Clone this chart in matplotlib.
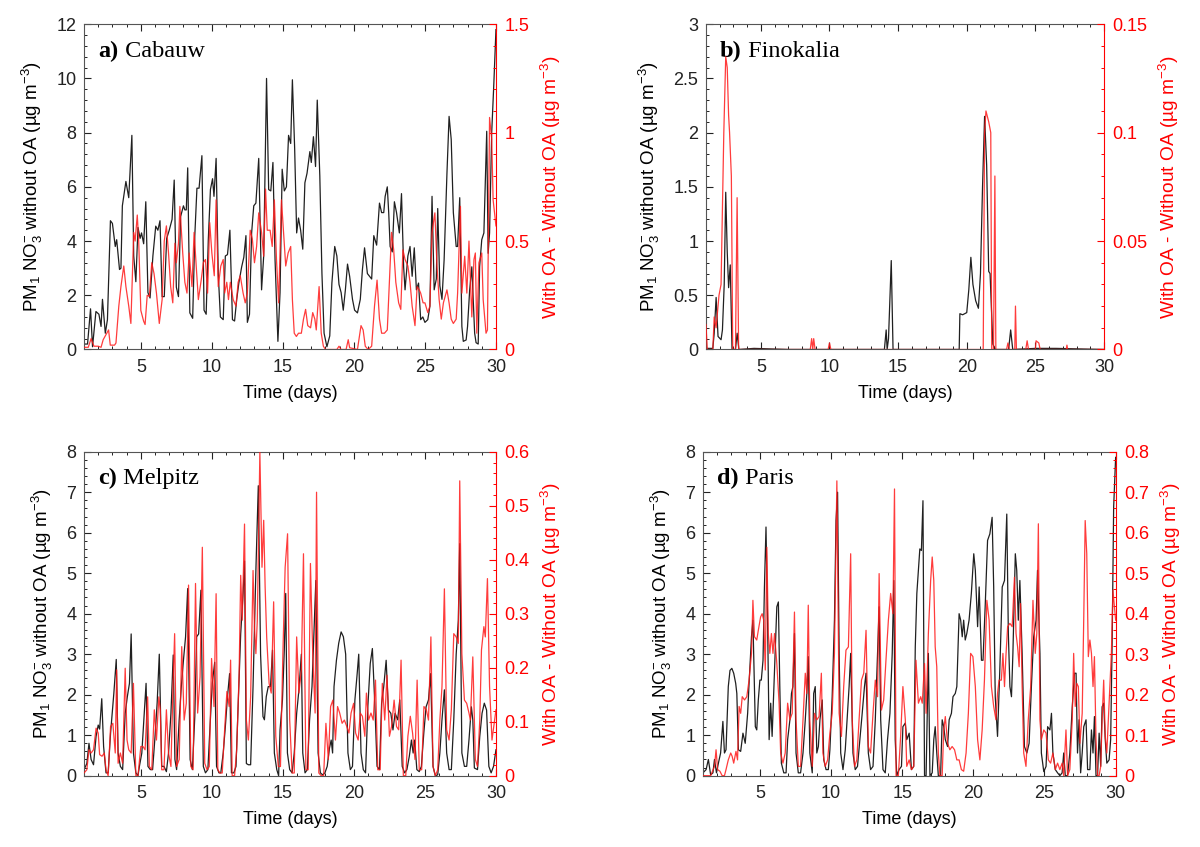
import matplotlib
matplotlib.use('Agg')
import matplotlib.pyplot as plt
import numpy as np
from matplotlib.ticker import MultipleLocator, AutoMinorLocator, FormatStrFormatter

plt.rcParams['font.family'] = ['Liberation Sans', 'DejaVu Sans']
plt.rcParams['mathtext.fontset'] = 'custom'
plt.rcParams['mathtext.rm'] = 'Liberation Sans'
plt.rcParams['mathtext.it'] = 'Liberation Sans:italic'

# (day, value) pairs
# black = PM1 nitrate without OA (left axis), red = difference with OA - without OA (right axis)
cabauw_black = [
    (1.0, 0.2), (1.25, 0.2), (1.46, 1.5), (1.6, 0.1), (1.84, 1.4), (2.05, 1.3), (2.2, 0.85), (2.3, 1.85),
    (2.5, 0.6), (2.65, 1.1), (2.86, 4.75), (3.0, 4.65), (3.2, 3.8), (3.3, 4.05), (3.5, 2.95), (3.6, 3.0),
    (3.7, 5.3), (3.95, 6.2), (4.15, 5.6), (4.37, 7.9), (4.5, 3.45), (4.65, 2.5), (4.8, 4.5), (4.95, 4.1),
    (5.05, 4.3), (5.2, 3.9), (5.35, 5.45), (5.5, 2.1), (5.65, 1.9), (5.85, 3.45), (6.05, 4.55), (6.2, 4.4),
    (6.35, 4.75), (6.5, 1.95), (6.65, 1.95), (6.82, 4.1), (7.0, 4.4), (7.2, 4.8), (7.35, 6.25), (7.5, 2.3),
    (7.65, 1.95), (7.8, 4.9), (8.0, 5.3), (8.1, 5.15), (8.2, 5.15), (8.3, 6.7), (8.45, 1.35), (8.65, 1.15),
    (8.8, 4.2), (8.95, 5.95), (9.1, 5.95), (9.3, 7.15), (9.45, 1.45), (9.6, 1.3), (9.75, 4.05), (9.9, 5.9),
    (10.05, 6.3), (10.15, 5.65), (10.3, 7.05), (10.45, 2.8), (10.6, 1.2), (10.8, 1.1), (10.95, 3.45),
    (11.1, 3.5), (11.27, 4.4), (11.45, 1.1), (11.6, 1.05), (11.75, 1.85), (11.9, 2.45), (12.1, 3.05),
    (12.25, 3.4), (12.4, 4.2), (12.5, 1.0), (12.65, 1.3), (12.8, 4.3), (12.95, 5.3), (13.1, 5.4),
    (13.3, 7.05), (13.5, 2.2), (13.65, 3.45), (13.85, 10.0), (14.0, 5.9), (14.15, 5.85), (14.3, 6.9),
    (14.45, 3.3), (14.65, 0.3), (14.8, 2.1), (14.95, 6.65), (15.1, 5.85), (15.25, 6.0), (15.4, 7.9),
    (15.55, 7.6), (15.67, 9.95), (15.83, 7.4), (15.97, 4.3), (16.1, 4.85), (16.25, 4.4), (16.4, 3.7),
    (16.55, 6.15), (16.7, 6.5), (16.9, 7.3), (17.0, 6.9), (17.15, 7.85), (17.3, 6.75), (17.42, 9.2),
    (17.6, 6.4), (17.75, 2.8), (17.9, 0.6), (18.1, 0.1), (18.3, 0.5), (18.45, 2.45), (18.65, 3.8),
    (18.8, 3.45), (18.95, 2.4), (19.1, 2.1), (19.25, 1.45), (19.4, 2.2), (19.55, 3.15), (19.7, 2.7),
    (19.9, 1.85), (20.05, 1.45), (20.25, 1.35), (20.45, 1.85), (20.6, 2.95), (20.75, 3.75), (20.95, 2.8),
    (21.1, 2.7), (21.25, 2.6), (21.4, 4.2), (21.6, 3.85), (21.7, 4.65), (21.8, 5.4), (21.95, 5.05),
    (22.1, 5.05), (22.2, 5.65), (22.35, 6.0), (22.45, 5.05), (22.55, 3.8), (22.7, 3.6), (22.85, 5.45),
    (23.0, 5.05), (23.2, 4.3), (23.35, 5.75), (23.5, 3.05), (23.6, 2.2), (23.8, 3.45), (23.95, 3.8),
    (24.1, 2.7), (24.25, 3.75), (24.4, 2.2), (24.55, 2.45), (24.7, 1.1), (24.85, 1.2), (25.0, 1.0),
    (25.2, 1.1), (25.35, 1.6), (25.5, 5.65), (25.65, 2.2), (25.8, 2.6), (25.9, 5.2), (26.05, 2.35),
    (26.2, 1.85), (26.35, 3.3), (26.55, 6.5), (26.7, 8.6), (26.85, 7.75), (27.0, 5.05), (27.2, 3.8),
    (27.3, 3.8), (27.45, 5.6), (27.6, 0.85), (27.7, 0.3), (27.9, 0.35), (28.0, 0.85), (28.15, 2.2),
    (28.3, 3.05), (28.5, 0.6), (28.6, 0.25), (28.75, 0.2), (28.85, 3.05), (29.0, 4.05), (29.15, 4.3),
    (29.35, 8.05), (29.45, 3.55), (29.55, 4.3), (29.7, 8.0), (29.85, 9.8), (30.0, 11.8),
]
cabauw_red = [
    (1.0, 0.01), (1.3, 0.01), (1.5, 0.05), (1.7, 0.015), (2.0, 0.015), (2.2, 0.01), (2.35, 0.045),
    (2.6, 0.075), (2.73, 0.09), (2.85, 0.02), (3.15, 0.02), (3.25, 0.03), (3.45, 0.2), (3.6, 0.29),
    (3.8, 0.385), (3.95, 0.29), (4.15, 0.2), (4.3, 0.12), (4.5, 0.54), (4.6, 0.5), (4.75, 0.62),
    (4.85, 0.5), (5.0, 0.18), (5.2, 0.13), (5.3, 0.115), (5.45, 0.25), (5.6, 0.245), (5.77, 0.4),
    (5.93, 0.35), (6.1, 0.26), (6.3, 0.12), (6.5, 0.23), (6.65, 0.5), (6.8, 0.57), (6.95, 0.445),
    (7.1, 0.29), (7.25, 0.215), (7.4, 0.49), (7.5, 0.4), (7.65, 0.49), (7.75, 0.66), (7.95, 0.445),
    (8.1, 0.31), (8.25, 0.26), (8.4, 0.445), (8.6, 0.29), (8.75, 0.54), (8.9, 0.385), (9.05, 0.23),
    (9.25, 0.32), (9.4, 0.4), (9.55, 0.415), (9.7, 0.26), (9.85, 0.585), (10.0, 0.445), (10.17, 0.34),
    (10.3, 0.69), (10.45, 0.29), (10.63, 0.385), (10.8, 0.415), (10.9, 0.26), (11.05, 0.31),
    (11.17, 0.23), (11.3, 0.31), (11.5, 0.23), (11.7, 0.2), (11.85, 0.31), (12.0, 0.34), (12.2, 0.26),
    (12.35, 0.215), (12.5, 0.26), (12.7, 0.55), (12.85, 0.51), (13.0, 0.4), (13.15, 0.475),
    (13.3, 0.63), (13.5, 0.54), (13.65, 0.43), (13.78, 0.74), (13.9, 0.55), (14.1, 0.55), (14.25, 0.475),
    (14.4, 0.69), (14.55, 0.415), (14.7, 0.215), (14.9, 0.69), (15.05, 0.54), (15.2, 0.385),
    (15.37, 0.445), (15.55, 0.475), (15.67, 0.23), (15.8, 0.075), (15.95, 0.06), (16.1, 0.075),
    (16.3, 0.075), (16.45, 0.14), (16.6, 0.185), (16.75, 0.11), (16.95, 0.1), (17.1, 0.17),
    (17.25, 0.14), (17.35, 0.09), (17.55, 0.29), (17.7, 0.075), (17.85, 0.015), (18.0, 0.0),
    (18.8, 0.0), (18.95, 0.015), (19.1, 0.0), (19.45, 0.0), (19.6, 0.045), (19.7, 0.008), (20.25, 0.0),
    (20.5, 0.11), (20.65, 0.09), (20.8, 0.015), (21.0, 0.0), (21.25, 0.015), (21.45, 0.2), (21.63, 0.32),
    (21.8, 0.14), (21.95, 0.075), (22.15, 0.075), (22.35, 0.09), (22.5, 0.31), (22.65, 0.54),
    (22.8, 0.46), (22.95, 0.31), (23.15, 0.215), (23.3, 0.185), (23.45, 0.46), (23.6, 0.415),
    (23.8, 0.385), (23.95, 0.31), (24.1, 0.2), (24.3, 0.11), (24.45, 0.29), (24.6, 0.275), (24.7, 0.26),
    (24.87, 0.215), (25.0, 0.215), (25.2, 0.17), (25.35, 0.2), (25.5, 0.54), (25.7, 0.63),
    (25.85, 0.385), (26.0, 0.23), (26.15, 0.14), (26.3, 0.215), (26.55, 0.275), (26.7, 0.215),
    (26.85, 0.14), (27.0, 0.12), (27.2, 0.14), (27.3, 0.26), (27.5, 0.66), (27.6, 0.26), (27.8, 0.43),
    (27.95, 0.26), (28.1, 0.5), (28.3, 0.15), (28.45, 0.415), (28.55, 0.445), (28.65, 0.075),
    (28.8, 0.4), (29.0, 0.445), (29.1, 0.23), (29.3, 0.075), (29.4, 0.09), (29.55, 1.07), (29.7, 0.97),
    (29.8, 0.69), (30.0, 0.57),
]

finokalia_black = [
    (1.0, 0.01), (1.5, 0.01), (1.6, 0.15), (1.74, 0.48), (1.88, 0.12), (2.1, 0.09), (2.2, 0.18),
    (2.33, 0.6), (2.44, 1.45), (2.55, 0.9), (2.65, 0.57), (2.77, 0.78), (2.9, 0.0), (3.15, 0.0),
    (3.27, 0.15), (3.4, 0.0), (4.5, 0.01), (7.0, 0.0), (10.0, 0.0), (14.0, 0.0), (14.13, 0.18),
    (14.2, 0.0), (14.3, 0.1), (14.5, 0.82), (14.63, 0.0), (19.45, 0.0), (19.5, 0.33), (19.7, 0.32),
    (20.0, 0.34), (20.15, 0.55), (20.3, 0.85), (20.45, 0.6), (20.65, 0.45), (20.85, 0.38), (21.0, 0.7),
    (21.15, 1.5), (21.3, 2.15), (21.45, 1.7), (21.6, 0.72), (21.7, 0.7), (21.9, 0.05), (22.08, 0.0),
    (23.05, 0.0), (23.2, 0.18), (23.35, 0.0), (25.0, 0.01), (26.5, 0.01), (30.0, 0.0),
]
finokalia_red = [
    (1.0, 0.0115), (1.1, 0.0), (1.5, 0.0), (1.6, 0.015), (1.74, 0.01), (1.95, 0.025), (2.1, 0.03),
    (2.3, 0.1), (2.44, 0.135), (2.55, 0.13), (2.65, 0.108), (2.72, 0.1), (2.85, 0.08), (2.95, 0.0),
    (3.15, 0.0), (3.27, 0.07), (3.38, 0.0), (8.6, 0.0), (8.7, 0.005), (8.78, 0.0), (8.85, 0.005),
    (8.95, 0.0), (9.9, 0.0), (10.0, 0.003), (10.1, 0.0), (21.2, 0.0), (21.3, 0.1), (21.4, 0.11),
    (21.6, 0.105), (21.75, 0.1), (21.82, 0.0), (21.95, 0.0), (22.05, 0.08), (22.12, 0.0), (22.9, 0.0),
    (23.0, 0.003), (23.1, 0.0), (23.5, 0.0), (23.55, 0.02), (23.62, 0.0), (24.3, 0.0), (24.4, 0.004),
    (24.5, 0.0), (25.0, 0.0), (25.05, 0.004), (25.25, 0.003), (25.35, 0.0), (27.25, 0.0), (27.3, 0.002),
    (27.35, 0.0), (30.0, 0.0),
]

melpitz_black = [
    (1.0, 0.15), (1.2, 0.3), (1.35, 0.8), (1.5, 0.4), (1.67, 0.27), (1.85, 0.97), (2.0, 1.25),
    (2.1, 1.15), (2.25, 1.9), (2.38, 0.72), (2.55, 0.07), (2.7, 0.07), (2.87, 1.05), (3.1, 2.03),
    (3.27, 2.87), (3.4, 0.56), (3.56, 0.23), (3.72, 0.15), (3.9, 1.54), (4.05, 1.95), (4.2, 2.28),
    (4.32, 3.5), (4.48, 0.56), (4.65, 0.07), (4.8, 0.0), (4.9, 0.23), (5.07, 0.56), (5.23, 1.46),
    (5.37, 2.28), (5.5, 0.23), (5.67, 0.15), (5.83, 0.15), (6.0, 0.97), (6.15, 1.8), (6.3, 3.0),
    (6.47, 0.23), (6.63, 0.23), (6.8, 0.1), (6.95, 0.56), (7.12, 1.54), (7.28, 2.98), (7.4, 0.4),
    (7.52, 0.15), (7.7, 1.38), (7.85, 2.2), (8.0, 2.85), (8.15, 3.43), (8.3, 4.62), (8.47, 0.4),
    (8.63, 0.15), (8.8, 1.46), (8.93, 3.43), (9.07, 3.5), (9.23, 4.58), (9.4, 0.23), (9.55, 0.07),
    (9.72, 0.15), (9.87, 1.21), (10.03, 2.28), (10.2, 2.8), (10.33, 0.23), (10.5, 0.07), (10.63, 0.07),
    (10.8, 0.56), (10.95, 1.21), (11.1, 1.95), (11.25, 2.52), (11.38, 0.07), (11.55, 0.07),
    (11.7, 0.23), (11.87, 1.95), (12.03, 3.5), (12.2, 4.5), (12.3, 5.3), (12.43, 0.3), (12.57, 0.27),
    (12.73, 0.27), (12.9, 2.2), (13.1, 5.07), (13.27, 7.16), (13.43, 3.0), (13.6, 1.46), (13.7, 1.38),
    (13.83, 1.95), (13.97, 2.2), (14.13, 2.2), (14.27, 3.1), (14.4, 0.56), (14.57, 0.15), (14.7, 0.0),
    (14.8, 1.13), (14.97, 1.87), (15.1, 3.1), (15.2, 4.5), (15.32, 0.56), (15.48, 0.15), (15.65, 0.07),
    (15.8, 0.56), (15.97, 1.54), (16.13, 2.12), (16.3, 3.0), (16.4, 0.56), (16.56, 0.07), (16.72, 0.15),
    (16.88, 1.38), (17.05, 2.2), (17.15, 3.18), (17.32, 4.82), (17.48, 0.56), (17.64, 0.07),
    (17.8, 0.02), (17.96, 0.07), (18.12, 0.23), (18.28, 0.68), (18.4, 0.88), (18.5, 0.56), (18.6, 2.2),
    (18.77, 2.85), (18.93, 3.27), (19.1, 3.55), (19.26, 3.43), (19.42, 3.0), (19.58, 0.56),
    (19.75, 0.15), (19.9, 0.23), (20.07, 1.87), (20.23, 2.52), (20.34, 3.0), (20.5, 0.56), (20.66, 0.15),
    (20.82, 0.07), (20.98, 1.7), (21.15, 2.77), (21.3, 3.14), (21.47, 1.79), (21.63, 0.23), (21.8, 0.15),
    (21.95, 1.79), (22.1, 2.2), (22.27, 2.85), (22.43, 1.62), (22.6, 1.54), (22.75, 1.13), (22.9, 1.54),
    (23.08, 1.38), (23.23, 1.87), (23.4, 0.23), (23.57, 0.07), (23.73, 0.15), (23.9, 0.48),
    (24.05, 0.88), (24.17, 0.56), (24.28, 0.88), (24.43, 0.15), (24.6, 0.1), (24.75, 0.23),
    (24.92, 1.05), (25.08, 1.7), (25.25, 1.87), (25.4, 2.52), (25.57, 0.23), (25.73, 0.0), (25.9, 0.02),
    (26.05, 0.56), (26.2, 1.38), (26.37, 2.12), (26.53, 0.56), (26.7, 0.15), (26.86, 0.15),
    (27.03, 1.38), (27.2, 3.0), (27.35, 3.84), (27.45, 5.73), (27.6, 0.56), (27.78, 0.23), (27.94, 0.23),
    (28.1, 0.88), (28.27, 1.7), (28.37, 1.38), (28.48, 0.19), (28.7, 0.15), (28.86, 0.97), (29.02, 1.54),
    (29.18, 1.79), (29.34, 1.62), (29.5, 0.23), (29.66, 0.07), (29.83, 0.23), (30.0, 0.64),
]
melpitz_red = [
    (1.0, 0.005), (1.2, 0.011), (1.35, 0.048), (1.5, 0.042), (1.67, 0.048), (1.85, 0.088), (2.0, 0.079),
    (2.1, 0.039), (2.27, 0.036), (2.43, 0.042), (2.55, 0.011), (2.7, 0.0), (2.87, 0.091), (3.03, 0.097),
    (3.2, 0.042), (3.3, 0.196), (3.4, 0.023), (3.56, 0.042), (3.72, 0.023), (3.9, 0.199), (4.03, 0.066),
    (4.15, 0.048), (4.32, 0.042), (4.48, 0.171), (4.65, 0.0), (4.8, 0.0), (5.0, 0.054), (5.15, 0.054),
    (5.3, 0.048), (5.48, 0.146), (5.6, 0.017), (5.77, 0.011), (5.95, 0.122), (6.1, 0.066), (6.27, 0.146),
    (6.37, 0.122), (6.47, 0.011), (6.63, 0.011), (6.8, 0.122), (6.95, 0.042), (7.12, 0.017),
    (7.28, 0.177), (7.38, 0.263), (7.52, 0.017), (7.7, 0.03), (7.88, 0.239), (8.05, 0.103), (8.2, 0.134),
    (8.36, 0.353), (8.52, 0.017), (8.68, 0.011), (8.85, 0.356), (9.0, 0.116), (9.17, 0.183),
    (9.33, 0.423), (9.5, 0.023), (9.66, 0.011), (9.82, 0.017), (9.98, 0.217), (10.15, 0.128),
    (10.3, 0.337), (10.42, 0.011), (10.57, 0.005), (10.73, 0.005), (10.9, 0.085), (11.06, 0.156),
    (11.22, 0.128), (11.32, 0.214), (11.43, 0.0), (11.6, 0.0), (11.75, 0.048), (11.92, 0.19),
    (12.03, 0.371), (12.14, 0.288), (12.3, 0.466), (12.43, 0.103), (12.57, 0.066), (12.73, 0.146),
    (12.9, 0.38), (13.0, 0.276), (13.1, 0.226), (13.2, 0.288), (13.38, 0.599), (13.53, 0.386),
    (13.65, 0.473), (13.75, 0.35), (13.86, 0.257), (14.03, 0.171), (14.18, 0.153), (14.35, 0.322),
    (14.5, 0.073), (14.68, 0.017), (14.83, 0.017), (15.0, 0.226), (15.16, 0.386), (15.33, 0.448),
    (15.48, 0.103), (15.65, 0.005), (15.8, 0.005), (15.97, 0.257), (16.13, 0.153), (16.3, 0.196),
    (16.45, 0.411), (16.62, 0.011), (16.78, 0.011), (16.94, 0.393), (17.1, 0.226), (17.27, 0.116),
    (17.37, 0.525), (17.53, 0.005), (17.7, 0.0), (17.87, 0.0), (18.03, 0.097), (18.2, 0.03),
    (18.36, 0.128), (18.52, 0.14), (18.7, 0.066), (18.85, 0.128), (19.0, 0.116), (19.17, 0.097),
    (19.33, 0.103), (19.5, 0.091), (19.65, 0.079), (19.8, 0.116), (19.98, 0.134), (20.12, 0.079),
    (20.3, 0.066), (20.45, 0.116), (20.6, 0.11), (20.77, 0.073), (20.88, 0.153), (21.03, 0.103),
    (21.2, 0.116), (21.36, 0.103), (21.52, 0.177), (21.68, 0.011), (21.85, 0.011), (22.0, 0.171),
    (22.17, 0.103), (22.33, 0.186), (22.5, 0.073), (22.65, 0.091), (22.83, 0.14), (23.0, 0.091),
    (23.15, 0.085), (23.32, 0.214), (23.48, 0.0), (23.65, 0.0), (23.8, 0.073), (23.97, 0.11),
    (24.13, 0.079), (24.3, 0.03), (24.45, 0.177), (24.6, 0.011), (24.77, 0.011), (24.93, 0.128),
    (25.1, 0.122), (25.25, 0.103), (25.42, 0.257), (25.57, 0.017), (25.73, 0.0), (25.9, 0.011),
    (26.05, 0.103), (26.2, 0.165), (26.37, 0.346), (26.53, 0.085), (26.7, 0.066), (26.86, 0.122),
    (27.03, 0.263), (27.2, 0.257), (27.35, 0.245), (27.45, 0.546), (27.6, 0.226), (27.78, 0.14),
    (27.94, 0.134), (28.1, 0.116), (28.2, 0.103), (28.37, 0.22), (28.55, 0.03), (28.7, 0.017),
    (28.86, 0.103), (28.98, 0.233), (29.15, 0.276), (29.25, 0.257), (29.4, 0.365), (29.55, 0.165),
    (29.72, 0.066), (30.0, 0.122),
]

paris_black = [
    (1.0, 0.07), (1.22, 0.15), (1.38, 0.4), (1.54, 0.02), (1.7, 0.07), (1.81, 0.4), (1.95, 0.07),
    (2.08, 0.3), (2.24, 0.56), (2.4, 1.34), (2.51, 0.56), (2.62, 0.64), (2.78, 2.2), (2.9, 2.6),
    (3.03, 2.65), (3.16, 2.53), (3.3, 2.28), (3.38, 2.03), (3.49, 0.64), (3.65, 0.6), (3.81, 1.05),
    (3.97, 0.8), (4.14, 1.54), (4.24, 2.28), (4.41, 3.43), (4.51, 3.84), (4.68, 1.21), (4.78, 1.13),
    (4.89, 1.87), (5.0, 2.36), (5.1, 2.36), (5.22, 2.85), (5.32, 4.66), (5.43, 6.14), (5.54, 3.84),
    (5.65, 0.89), (5.76, 1.79), (5.86, 0.97), (6.03, 2.61), (6.19, 4.17), (6.3, 4.29), (6.4, 2.2),
    (6.51, 0.31), (6.68, 0.07), (6.84, 0.07), (6.95, 0.89), (7.11, 1.38), (7.22, 2.03), (7.32, 2.2),
    (7.43, 3.51), (7.54, 0.56), (7.7, 0.07), (7.86, 0.07), (8.03, 0.56), (8.19, 1.38), (8.3, 2.03),
    (8.4, 2.94), (8.51, 0.56), (8.68, 0.07), (8.78, 2.03), (8.89, 2.2), (9.0, 0.56), (9.11, 0.72),
    (9.22, 1.38), (9.38, 1.87), (9.49, 0.39), (9.65, 0.15), (9.81, 0.15), (9.92, 0.64), (10.08, 1.95),
    (10.24, 3.84), (10.35, 6.3), (10.46, 7.0), (10.57, 3.02), (10.68, 0.56), (10.84, 0.15), (11.0, 0.64),
    (11.16, 1.54), (11.27, 2.2), (11.38, 3.02), (11.54, 0.56), (11.7, 0.15), (11.86, 0.23), (12.03, 0.89),
    (12.19, 1.54), (12.35, 2.2), (12.46, 2.53), (12.62, 0.56), (12.78, 0.15), (12.95, 0.23),
    (13.11, 1.38), (13.27, 3.02), (13.38, 4.17), (13.49, 1.38), (13.65, 0.15), (13.81, 0.07),
    (13.97, 0.89), (14.14, 1.54), (14.3, 3.02), (14.41, 4.82), (14.51, 0.89), (14.62, 0.0),
    (14.78, 0.15), (14.95, 0.23), (15.05, 1.21), (15.22, 1.3), (15.32, 0.89), (15.49, 1.05),
    (15.65, 0.15), (15.81, 0.23), (15.92, 3.18), (16.03, 4.5), (16.14, 5.07), (16.24, 5.6),
    (16.35, 5.56), (16.46, 6.79), (16.57, 0.0), (16.68, 0.0), (16.84, 3.02), (16.95, 0.0), (17.11, 0.07),
    (17.22, 0.89), (17.32, 1.21), (17.43, 0.56), (17.54, 0.0), (17.7, 0.0), (17.81, 1.38), (17.92, 1.21),
    (18.03, 0.89), (18.19, 0.72), (18.3, 1.38), (18.46, 1.54), (18.57, 1.95), (18.73, 2.03), (18.84, 2.2),
    (19.0, 4.0), (19.11, 3.84), (19.22, 3.43), (19.32, 3.84), (19.43, 3.35), (19.54, 3.51),
    (19.7, 3.84), (19.86, 4.5), (20.03, 5.48), (20.14, 5.07), (20.3, 3.68), (20.41, 4.66), (20.57, 2.85),
    (20.68, 2.85), (20.84, 4.25), (21.0, 5.81), (21.16, 5.97), (21.32, 6.38), (21.43, 4.66),
    (21.54, 1.95), (21.7, 0.97), (21.86, 2.61), (22.03, 4.66), (22.19, 4.82), (22.35, 6.46),
    (22.46, 3.51), (22.57, 2.2), (22.68, 1.95), (22.78, 3.02), (22.95, 5.48), (23.05, 5.07),
    (23.16, 3.84), (23.27, 4.82), (23.43, 3.02), (23.59, 0.72), (23.76, 0.56), (23.92, 0.8), (24.08, 2.2),
    (24.24, 3.43), (24.41, 3.84), (24.51, 5.07), (24.68, 3.02), (24.78, 0.56), (24.95, 0.1),
    (25.11, 0.23), (25.22, 1.21), (25.38, 1.13), (25.49, 1.54), (25.59, 0.56), (25.76, 0.15),
    (25.92, 0.07), (26.08, 0.0), (26.24, 0.07), (26.35, 0.56), (26.46, 0.0), (26.62, 0.0), (26.78, 0.56),
    (26.95, 1.7), (27.11, 2.53), (27.22, 2.53), (27.32, 0.56), (27.43, 1.38), (27.54, 0.07),
    (27.65, 0.56), (27.76, 1.21), (27.92, 1.38), (28.03, 0.15), (28.19, 0.15), (28.3, 1.13),
    (28.41, 0.56), (28.51, 1.46), (28.62, 0.0), (28.73, 0.0), (28.84, 1.05), (28.95, 0.23), (29.05, 1.7),
    (29.16, 1.79), (29.27, 0.89), (29.38, 0.31), (29.54, 0.39), (29.65, 0.89), (29.76, 3.43),
    (29.86, 6.63), (30.0, 7.86),
]
paris_red = [
    (1.0, 0.0), (1.54, 0.0), (1.81, 0.023), (1.92, 0.064), (2.03, 0.015), (2.19, 0.011), (2.35, 0.0),
    (2.51, 0.0), (2.62, 0.015), (2.78, 0.039), (2.95, 0.056), (3.05, 0.048), (3.16, 0.031), (3.32, 0.06),
    (3.43, 0.039), (3.54, 0.171), (3.65, 0.154), (3.76, 0.195), (3.92, 0.187), (4.08, 0.195),
    (4.24, 0.236), (4.41, 0.302), (4.51, 0.433), (4.62, 0.343), (4.78, 0.335), (4.89, 0.359),
    (5.05, 0.392), (5.16, 0.4), (5.27, 0.384), (5.38, 0.261), (5.49, 0.564), (5.59, 0.351), (5.7, 0.302),
    (5.81, 0.351), (5.92, 0.302), (6.03, 0.351), (6.19, 0.277), (6.35, 0.179), (6.46, 0.056),
    (6.62, 0.031), (6.78, 0.056), (6.95, 0.179), (7.11, 0.138), (7.27, 0.154), (7.43, 0.404),
    (7.54, 0.138), (7.7, 0.023), (7.86, 0.023), (8.03, 0.138), (8.19, 0.253), (8.3, 0.203), (8.4, 0.421),
    (8.51, 0.138), (8.68, 0.023), (8.84, 0.154), (9.0, 0.138), (9.16, 0.146), (9.32, 0.253),
    (9.43, 0.056), (9.59, 0.023), (9.76, 0.039), (9.92, 0.105), (10.08, 0.154), (10.24, 0.302),
    (10.41, 0.728), (10.57, 0.154), (10.73, 0.097), (10.89, 0.22), (11.05, 0.31), (11.22, 0.318),
    (11.38, 0.548), (11.49, 0.138), (11.65, 0.023), (11.81, 0.039), (11.97, 0.138), (12.14, 0.236),
    (12.3, 0.253), (12.46, 0.359), (12.62, 0.072), (12.78, 0.056), (12.95, 0.154), (13.11, 0.236),
    (13.27, 0.195), (13.38, 0.499), (13.54, 0.162), (13.7, 0.187), (13.86, 0.285), (14.03, 0.384),
    (14.19, 0.45), (14.35, 0.4), (14.46, 0.708), (14.57, 0.0), (14.73, 0.0), (14.89, 0.097),
    (15.05, 0.22), (15.22, 0.138), (15.32, 0.023), (15.49, 0.039), (15.65, 0.015), (15.81, 0.023),
    (15.97, 0.285), (16.14, 0.179), (16.3, 0.195), (16.41, 0.179), (16.57, 0.277), (16.68, 0.154),
    (16.84, 0.351), (17.0, 0.482), (17.11, 0.54), (17.22, 0.482), (17.32, 0.318), (17.43, 0.269),
    (17.54, 0.056), (17.65, 0.0), (17.81, 0.0), (17.92, 0.113), (18.03, 0.146), (18.19, 0.08),
    (18.35, 0.064), (18.51, 0.072), (18.68, 0.064), (18.84, 0.039), (19.0, 0.039), (19.16, 0.015),
    (19.32, 0.011), (19.49, 0.056), (19.65, 0.154), (19.81, 0.302), (19.97, 0.294), (20.14, 0.22),
    (20.3, 0.089), (20.46, 0.039), (20.62, 0.113), (20.78, 0.236), (20.95, 0.433), (21.11, 0.384),
    (21.27, 0.22), (21.43, 0.171), (21.59, 0.138), (21.7, 0.203), (21.81, 0.236), (21.97, 0.236),
    (22.08, 0.302), (22.19, 0.22), (22.3, 0.302), (22.41, 0.368), (22.57, 0.376), (22.73, 0.368),
    (22.89, 0.49), (23.0, 0.351), (23.11, 0.318), (23.22, 0.269), (23.32, 0.425), (23.43, 0.22),
    (23.54, 0.056), (23.7, 0.023), (23.86, 0.138), (24.03, 0.22), (24.19, 0.433), (24.35, 0.302),
    (24.46, 0.351), (24.57, 0.622), (24.68, 0.138), (24.78, 0.089), (24.95, 0.113), (25.11, 0.105),
    (25.27, 0.039), (25.43, 0.031), (25.59, 0.056), (25.76, 0.015), (25.92, 0.031), (26.08, 0.015),
    (26.24, 0.031), (26.35, 0.0), (26.51, 0.113), (26.62, 0.0), (26.78, 0.015), (26.95, 0.138),
    (27.05, 0.302), (27.16, 0.171), (27.27, 0.228), (27.38, 0.22), (27.49, 0.08), (27.65, 0.154),
    (27.76, 0.392), (27.86, 0.63), (27.97, 0.548), (28.08, 0.294), (28.19, 0.335), (28.3, 0.302),
    (28.41, 0.22), (28.51, 0.294), (28.62, 0.089), (28.73, 0.0), (28.84, 0.0), (28.95, 0.023),
    (29.05, 0.138), (29.16, 0.236), (29.27, 0.097), (29.38, 0.056), (29.54, 0.179), (29.7, 0.302),
    (29.81, 0.458), (30.0, 0.384),
]

panel_labels = ['a)', 'b)', 'c)', 'd)']
stations = ['Cabauw', 'Finokalia', 'Melpitz', 'Paris']
left_max = [12, 3, 8, 8]
left_step = [2, 0.5, 1, 1]
right_max = [1.5, 0.15, 0.6, 0.8]
right_step = [0.5, 0.05, 0.1, 0.1]
black_series = [cabauw_black, finokalia_black, melpitz_black, paris_black]
red_series = [cabauw_red, finokalia_red, melpitz_red, paris_red]

# axes boxes in figure fractions
boxes = [
    [0.0700, 0.5874, 0.3433, 0.3840],
    [0.5883, 0.5874, 0.3317, 0.3840],
    [0.0700, 0.0842, 0.3433, 0.3825],
    [0.5858, 0.0842, 0.3439, 0.3825],
]

fig = plt.figure(figsize=(12, 8.47), dpi=100)

left_label = 'PM$_1$ NO$_3^{-}$ without OA (µg m$^{-3}$)'
right_label = 'With OA - Without OA (µg m$^{-3}$)'

for i in range(4):
    ax = fig.add_axes(boxes[i])
    ax2 = ax.twinx()

    tb, vb = np.array(black_series[i]).T
    tr, vr = np.array(red_series[i]).T
    ax.plot(tb, vb, color='#202020', lw=0.9)
    ax2.plot(tr, vr, color='#ff1a1a', lw=0.9, alpha=0.85)

    ax.set_xlim(1, 30)
    ax.set_ylim(0, left_max[i])
    ax2.set_ylim(0, right_max[i])

    ax.xaxis.set_major_locator(MultipleLocator(5))
    ax.xaxis.set_minor_locator(MultipleLocator(1))
    ax.yaxis.set_major_locator(MultipleLocator(left_step[i]))
    ax.yaxis.set_minor_locator(AutoMinorLocator(5))
    ax2.yaxis.set_major_locator(MultipleLocator(right_step[i]))
    ax2.yaxis.set_minor_locator(AutoMinorLocator(5))
    ax.yaxis.set_major_formatter(FormatStrFormatter('%g'))
    ax2.yaxis.set_major_formatter(FormatStrFormatter('%g'))

    ax.tick_params(axis='x', which='both', direction='in', top=True, labelsize=13, colors='#222222', pad=7)
    ax.tick_params(axis='y', which='both', direction='in', right=False, labelsize=13, colors='#222222', pad=5.5)
    ax.tick_params(which='major', length=5, width=0.8)
    ax.tick_params(which='minor', length=2.5, width=0.7)
    ax2.tick_params(axis='y', which='both', direction='in', colors='red', labelsize=13, pad=6)
    ax2.tick_params(which='major', length=5, width=0.8)
    ax2.tick_params(which='minor', length=2.5, width=0.7)

    for s in ['left', 'top', 'bottom']:
        ax.spines[s].set_color('#555555')
        ax2.spines[s].set_visible(False)
    ax.spines['right'].set_visible(False)
    ax2.spines['right'].set_color('red')

    ax.set_xlabel('Time (days)', fontsize=13, labelpad=6)
    ax.set_ylabel(left_label, fontsize=13.5, labelpad=8)
    ax2.set_ylabel(right_label, fontsize=13.8, color='red', labelpad=7)

    t = ax.text(0.035, 0.9, panel_labels[i], transform=ax.transAxes, fontsize=17.5,
                fontweight='bold', family='Liberation Serif', va='baseline', ha='left')
    ax.annotate(' ' + stations[i], xy=(1, 0), xycoords=t, fontsize=17.5,
                family='Liberation Serif', va='bottom', ha='left')

fig.savefig('out.png', dpi=100)
